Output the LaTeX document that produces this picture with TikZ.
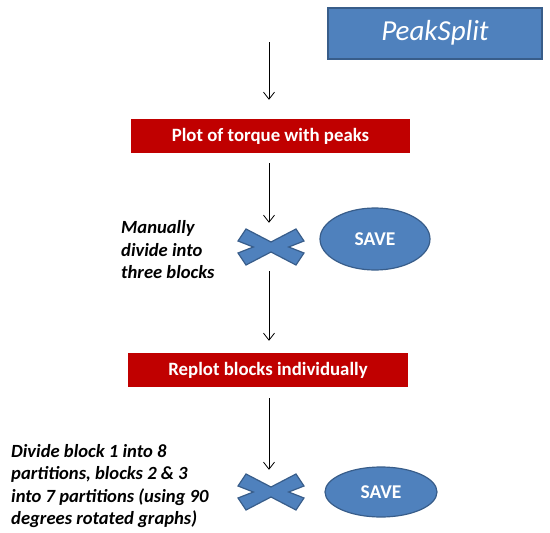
\documentclass[tikz,border=0pt]{standalone}
\usepackage{fontspec}
\setmainfont{Carlito}
\usetikzlibrary{positioning, shapes.geometric, arrows.meta}
\definecolor{TitleColor}{HTML}{4F81BD}
\definecolor{TitleEdge}{HTML}{385D8A}
\definecolor{StageColor}{HTML}{C00000}
\tikzset{
    title/.style={
        rectangle,
        minimum width=214pt,
        minimum height=51pt,
        fill=TitleColor,
        draw=TitleEdge,
        line width=2pt,
        text=white,
        font=\fontsize{29}{32}\selectfont\itshape
    },
    stage/.style={
        rectangle,
        minimum width=280pt,
        minimum height=34pt,
        fill=StageColor,
        text=white,
        font=\fontsize{18.8}{21}\selectfont\bfseries
    },
    save/.style={
        ellipse,
        inner sep=0pt,
        fill=TitleColor,
        draw=TitleEdge,
        line width=1.2pt,
        text=white,
        font=\fontsize{19.5}{21}\selectfont\bfseries
    },
    note/.style={
        align=left,
        inner sep=0pt,
        font=\fontsize{18.6}{22.5}\selectfont\bfseries\itshape
    },
    cutfill/.style={fill=TitleColor, draw=TitleEdge, line width=1.2pt},
    flow/.style={-{Straight Barb[length=7pt, width=11pt]}, thick},
    cutmark/.pic={
        \node[inner sep=0pt, minimum width=66pt, minimum height=36pt] (-box) {};
        \draw[cutfill] (17.7,0) -- (33,6) -- (25,18) -- (0,5)
            -- (-25,18) -- (-33,6) -- (-17.7,0)
            -- (-33,-6) -- (-25,-18) -- (0,-5)
            -- (25,-18) -- (33,-6) -- cycle;
    }
}

\begin{document}
\begin{tikzpicture}[x=1pt, y=-1pt]
\useasboundingbox (0,0) rectangle (550,533);

% Title
\node[title] (peak) at (435, 33) {PeakSplit};

% First stage
\coordinate (start) at (269, 42);
\node[stage, minimum width=279pt] (torque) at (270.5, 136) {Plot of torque with peaks};

\pic (cut1) at (271, 247) {cutmark};
\node[note, anchor=west] (manual) at (121, 250) {Manually\\divide into\\three blocks};
\node[save, minimum width=110pt, minimum height=62pt] (save1) at (375, 239) {SAVE};

% Second stage
\node[stage] (replot) at (268, 370) {Replot blocks individually};

\pic (cut2) at (271, 492) {cutmark};
\node[note, anchor=west, font=\fontsize{18.6}{22.3}\selectfont\bfseries\itshape] (divide) at (11, 486)
    {Divide block 1 into 8\\partitions, blocks 2 \& 3\\into 7 partitions (using 90\\degrees rotated graphs)};
\node[save, minimum width=112pt, minimum height=50pt] (save2) at (381, 492) {SAVE};

% Arrows
\draw[flow] (start) -- (start |- torque.north) [shorten >=19pt];
\draw[flow, shorten <=10pt, shorten >=6pt] (torque.south -| start) -- (start |- cut1-box.north);
\draw[flow, shorten <=6pt, shorten >=12pt] (start |- cut1-box.south) -- (start |- replot.north);
\draw[flow, shorten <=11pt, shorten >=4pt] (start |- replot.south) -- (start |- cut2-box.north);

\end{tikzpicture}
\end{document}
